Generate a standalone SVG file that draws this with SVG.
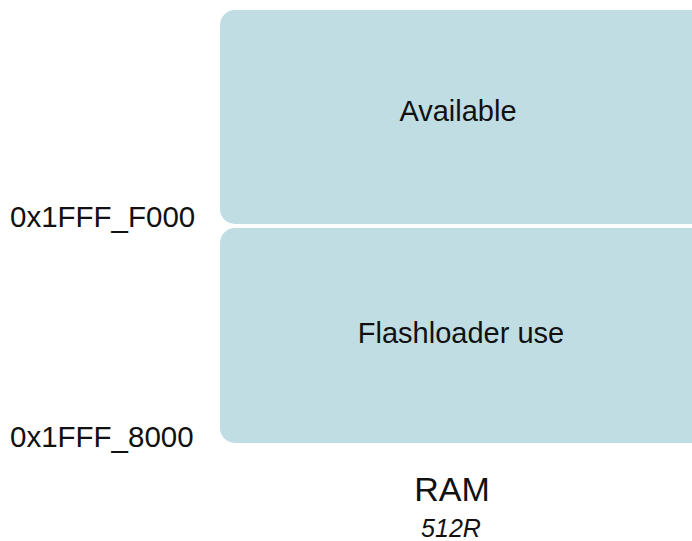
<svg xmlns="http://www.w3.org/2000/svg" width="692" height="541" viewBox="0 0 692 541">
<style>
.box{fill:#c0dde4;}
.t{font-family:"Liberation Sans",Arial,Helvetica,sans-serif;fill:#111;}
.lbl{font-size:29px;text-anchor:middle;}
.addr{font-size:29.5px;}
</style>
<rect width="692" height="541" fill="#fff"/>
<g id="available">
<rect class="box" x="220" y="10" width="490" height="214" rx="15" ry="15"/>
<text class="t lbl" x="458" y="121">Available</text>
</g>
<g id="flashloader">
<rect class="box" x="220" y="228" width="490" height="215" rx="15" ry="15"/>
<text class="t lbl" x="461" y="343">Flashloader use</text>
</g>
<g id="addr-f000">
<text class="t addr" x="10" y="227">0x1FFF_F000</text>
</g>
<g id="addr-8000">
<text class="t addr" x="10" y="447">0x1FFF_8000</text>
</g>
<g id="ram-title">
<text class="t" x="452" y="501" font-size="34" text-anchor="middle">RAM</text>
<text class="t" x="451" y="537" font-size="25" font-style="italic" text-anchor="middle">512R</text>
</g>
<g id="connectors"></g>
</svg>
